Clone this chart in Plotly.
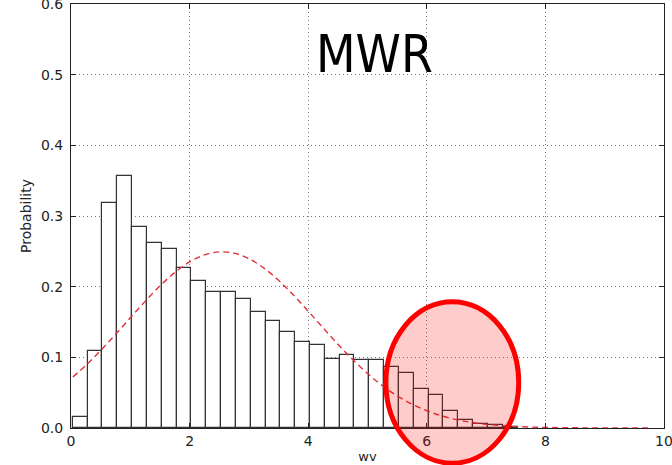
import plotly.graph_objects as go

# ---- data ----
bin_left = [0.03, 0.28, 0.53, 0.78, 1.03, 1.28, 1.53, 1.78, 2.03, 2.28,
            2.53, 2.78, 3.03, 3.28, 3.53, 3.78, 4.03, 4.28, 4.53, 4.78,
            5.03, 5.28, 5.53, 5.78, 6.03, 6.28, 6.53, 6.78, 7.03, 7.28]
bin_width = 0.25
prob = [0.016, 0.109, 0.319, 0.357, 0.285, 0.2625, 0.2535, 0.226, 0.2087, 0.192,
        0.193, 0.182, 0.164, 0.152, 0.136, 0.121, 0.117, 0.098, 0.103, 0.096,
        0.096, 0.087, 0.0775, 0.055, 0.046, 0.0236, 0.011, 0.0057, 0.0038, 0.0012]

curve_x = [0.03, 0.25, 0.5, 0.75, 1.0, 1.25, 1.5, 1.75, 2.0, 2.25, 2.5, 2.75,
           3.0, 3.25, 3.5, 3.75, 4.0, 4.25, 4.5, 4.75, 5.0, 5.25, 5.5, 5.75,
           6.0, 6.25, 6.5, 6.75, 7.0, 7.5, 8.0, 8.5, 9.0, 9.5, 9.73]
curve_y = [0.0721, 0.0887, 0.1097, 0.1324, 0.1559, 0.1792, 0.2010, 0.2200, 0.2350,
           0.2450, 0.2492, 0.2474, 0.2396, 0.2265, 0.2090, 0.1882, 0.1653, 0.1418,
           0.1186, 0.0969, 0.0772, 0.0600, 0.0455, 0.0337, 0.0244, 0.0172, 0.0118,
           0.0080, 0.0052, 0.0021, 0.0008, 0.0003, 0.0001, 0.0000, 0.0000]

x_ticks = [0, 2, 4, 6, 8, 10]
y_ticks = [0.0, 0.1, 0.2, 0.3, 0.4, 0.5, 0.6]

title_text = "MWR"
x_title = "wv"
y_title = "Probability"

fig = go.Figure()
fig.add_trace(go.Bar(
    x=bin_left, y=prob, width=[bin_width] * len(prob), offset=0,
    marker=dict(color="white", line=dict(color="#333333", width=1.2)),
    showlegend=False, hoverinfo="skip",
))
fig.add_trace(go.Scatter(
    x=curve_x, y=curve_y, mode="lines", line_shape="spline",
    line=dict(color="#e0303c", width=1.4, dash="6px,4px"),
    showlegend=False, hoverinfo="skip",
))

axis_common = dict(
    showline=True, linecolor="#222222", linewidth=1, mirror="ticks",
    ticks="inside", ticklen=5, tickcolor="#222222",
    showgrid=True, gridcolor="#777777", griddash="1px,3px", gridwidth=1,
    zeroline=False, ticklabeloverflow="allow", automargin=False,
    tickfont=dict(family="DejaVu Sans", size=14, color="#222222"),
)

fig.update_xaxes(range=[0, 10], tickvals=x_ticks, ticktext=[str(v) for v in x_ticks],
                 title=dict(text=x_title, font=dict(family="DejaVu Sans", size=13, color="#222222"),
                            standoff=4),
                 **axis_common)
fig.update_yaxes(range=[0, 0.6], tickvals=y_ticks, ticktext=["%.1f" % v for v in y_ticks],
                 title=dict(text=y_title, font=dict(family="DejaVu Sans", size=14, color="#222222"),
                            standoff=6),
                 ticklabelstandoff=4,
                 **axis_common)

# highlight ellipse (paper coordinates so it is not clipped)
fig.add_shape(type="circle", xref="paper", yref="paper",
              x0=0.531, x1=0.755, y0=-0.083, y1=0.298,
              line=dict(color="#ff0000", width=5),
              fillcolor="rgba(255,0,0,0.2)", layer="above")

fig.add_annotation(text=title_text, xref="paper", yref="paper", x=0.512, y=0.88,
                   xanchor="center", yanchor="middle", showarrow=False,
                   font=dict(family="DejaVu Sans Condensed, Liberation Sans Narrow, Liberation Sans, sans-serif",
                             size=51, color="#000000"))

fig.update_layout(
    width=672, height=465,
    margin=dict(l=71, r=8, t=4, b=37, autoexpand=False),
    paper_bgcolor="white", plot_bgcolor="white",
    bargap=0,
)

fig.write_html("out.html")
